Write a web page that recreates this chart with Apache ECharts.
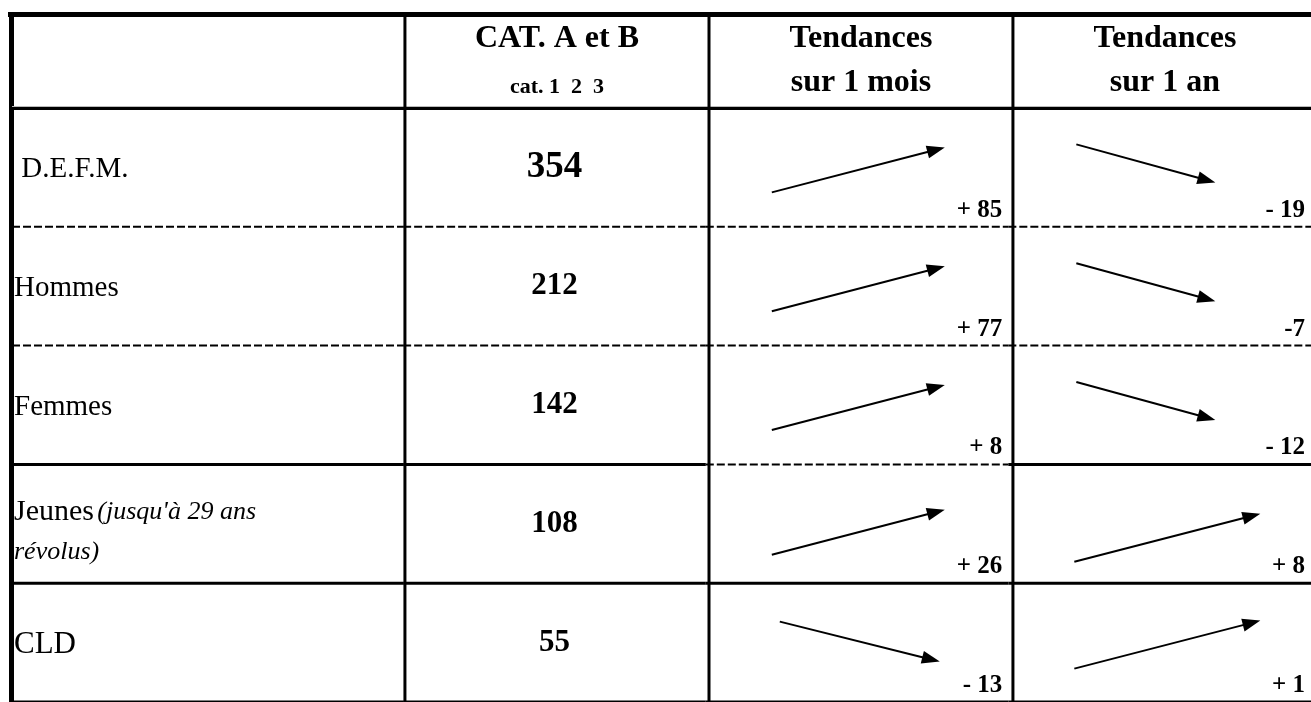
<!DOCTYPE html>
<html><head><meta charset="utf-8">
<script src="https://cdn.jsdelivr.net/npm/echarts@6/dist/echarts.min.js"></script>
<style>html,body{margin:0;padding:0;background:#fff}#c{width:1311px;height:702px}</style>
</head><body><div id="c"></div>
<script>
// ---- data ----
const categories = [' D.E.F.M.', 'Hommes', 'Femmes', "Jeunes (jusqu'à 29 ans révolus)", 'CLD'];
const totals = [354, 212, 142, 108, 55];
const monthChange = [85, 77, 8, 26, -13];
const monthLabels = ['+ 85', '+ 77', '+ 8', '+ 26', '- 13'];
const yearChange = [-19, -7, -12, 8, 1];
const yearLabels = ['- 19', '-7', '- 12', '+ 8', '+ 1'];
const headerTitles = ['CAT. A et B', 'Tendances', 'Tendances'];
const headerSubtitles = ['cat. 1  2  3', 'sur 1 mois', 'sur 1 an'];

// ---- layout (not data) ----
const colEdges = [0, 0.3011, 0.5341, 0.7670, 1]; // fractions of the grid width
const rowBottomStyles = [
  ['dash', 'dash', 'dash', 'dash'],
  ['dash', 'dash', 'dash', 'dash'],
  ['solid', 'solid', 'dash', 'solid'],
  ['solid', 'solid', 'solid', 'solid'],
  ['solid', 'solid', 'solid', 'solid']
];
const arrowShiftMonth = [0, 0, 0, 6, 4];   // vertical nudge of arrows inside cells (px)
const arrowShiftYear = [0, 0, 0, 16, 4];
const FONT = '"Liberation Serif", "Times New Roman", serif';
const GRID = { left: 12, top: 108, width: 1305, height: 600 };

const chart = echarts.init(document.getElementById('c'), null, { renderer: 'canvas' });

function arrow(x1, y1, x2, y2) {
  const dx = x2 - x1, dy = y2 - y1, len = Math.sqrt(dx * dx + dy * dy);
  const ux = dx / len, uy = dy / len, hl = 18, hw = 6.5;
  const bx = x2 - ux * hl, by = y2 - uy * hl;
  return [
    { type: 'line', shape: { x1: x1, y1: y1, x2: bx + ux * 2, y2: by + uy * 2 }, style: { stroke: '#000', lineWidth: 2 } },
    { type: 'polygon', shape: { points: [[x2, y2], [bx - uy * hw, by + ux * hw], [bx + uy * hw, by - ux * hw]] }, style: { fill: '#000' } }
  ];
}

function renderRow(params, api) {
  const r = api.value(0);
  const total = api.value(1);
  const mc = api.value(2);
  const yc = api.value(3);
  const mid = api.coord([0, r])[1];
  const band = api.size([0, 1])[1];
  const bottom = mid + band / 2;
  const X = colEdges.map(f => api.coord([f, r])[0]);
  const kids = [];

  // row label
  const label = categories[r];
  if (label.indexOf('(') >= 0) {
    const i = label.indexOf('(');
    const main = label.slice(0, i).trim();
    const rest = label.slice(i);
    const cut = rest.lastIndexOf(' ');
    kids.push({ type: 'text', style: { x: X[0] + 2, y: mid + 8, text: '{r|' + main + '} {i|' + rest.slice(0, cut) + '}\n{i|' + rest.slice(cut + 1) + '}',
      verticalAlign: 'middle', align: 'left', rich: {
        r: { fontFamily: FONT, fontSize: 30, fill: '#000', lineHeight: 40 },
        i: { fontFamily: FONT, fontSize: 26, fontStyle: 'italic', fill: '#000', lineHeight: 40 }
      } } });
  } else {
    kids.push({ type: 'text', style: { x: X[0] + 2, y: mid + 2, text: label, fontFamily: FONT, fontSize: r === 4 ? 31 : 29, fill: '#000', verticalAlign: 'middle', align: 'left' } });
  }

  // total
  kids.push({ type: 'text', style: { x: (X[1] + X[2]) / 2, y: mid, text: String(total), fontFamily: FONT, fontWeight: 'bold',
    fontSize: r === 0 ? 37 : 31, fill: '#000', align: 'center', verticalAlign: 'middle' } });

  // trend arrows
  function trend(x0, x1, v, txt, isYear, sh) {
    const m = mid + sh;
    let a;
    if (v >= 0) {
      a = isYear ? arrow(x0 + 66, m + 22, x0 + 252, m - 26) : arrow(x0 + 66, m + 25, x0 + 239, m - 20);
    } else {
      a = isYear ? arrow(x0 + 68, m - 23, x0 + 207, m + 15) : arrow(x0 + 74, m - 25, x0 + 234, m + 15);
    }
    a.forEach(e => kids.push(e));
    kids.push({ type: 'text', style: { x: x1 - 6, y: bottom - 4, text: txt, fontFamily: FONT, fontWeight: 'bold', fontSize: 25,
      fill: '#000', align: 'right', verticalAlign: 'bottom' } });
  }
  trend(X[2], X[3], mc, monthLabels[r], false, arrowShiftMonth[r]);
  trend(X[3], X[4], yc, yearLabels[r], true, arrowShiftYear[r]);

  // bottom border segments
  rowBottomStyles[r].forEach((s, c) => {
    kids.push({ type: 'line', shape: { x1: X[c], y1: bottom, x2: X[c + 1], y2: bottom },
      style: s === 'dash' ? { stroke: '#000', lineWidth: 2, lineDash: [8, 3] } : { stroke: '#000', lineWidth: 3 } });
  });
  return { type: 'group', children: kids };
}

const rowData = totals.map((t, i) => [i, t, monthChange[i], yearChange[i]]);

// header + frame graphics (layout)
const W = GRID.width;
const colX = colEdges.map(f => GRID.left + f * W);
const graphics = [
  { type: 'rect', shape: { x: 8, y: 12, width: 1320, height: 5 }, style: { fill: '#000' }, z: 10 },
  { type: 'rect', shape: { x: 9, y: 12, width: 5, height: 700 }, style: { fill: '#000' }, z: 10 },
  { type: 'rect', shape: { x: 12, y: 106, width: 1310, height: 1 }, style: { fill: '#bbb' }, z: 10 },
  { type: 'rect', shape: { x: 12, y: 107, width: 1310, height: 3 }, style: { fill: '#000' }, z: 10 }
];
[1, 2, 3].forEach(i => {
  graphics.push({ type: 'rect', shape: { x: colX[i] - 1.5, y: 12, width: 3, height: 700 }, style: { fill: '#000' }, z: 10 });
});
headerTitles.forEach((t, i) => {
  const cx = (colX[i + 1] + colX[i + 2]) / 2;
  graphics.push({ type: 'text', style: { x: cx, y: 39, text: t, fontFamily: FONT, fontWeight: 'bold', fontSize: 32, fill: '#000', align: 'center', verticalAlign: 'middle' }, z: 10 });
  graphics.push({ type: 'text', style: { x: cx, y: i === 0 ? 87 : 83, text: headerSubtitles[i], fontFamily: FONT, fontWeight: 'bold', fontSize: i === 0 ? 22 : 32, fill: '#000', align: 'center', verticalAlign: 'middle' }, z: 10 });
});

chart.setOption({
  animation: false,
  backgroundColor: '#fff',
  grid: GRID,
  xAxis: { type: 'value', min: 0, max: 1, show: false },
  yAxis: { type: 'category', data: categories, inverse: true, show: false },
  graphic: graphics,
  series: [{ type: 'custom', renderItem: renderRow, data: rowData, clip: false }]
});
</script>
</body></html>
